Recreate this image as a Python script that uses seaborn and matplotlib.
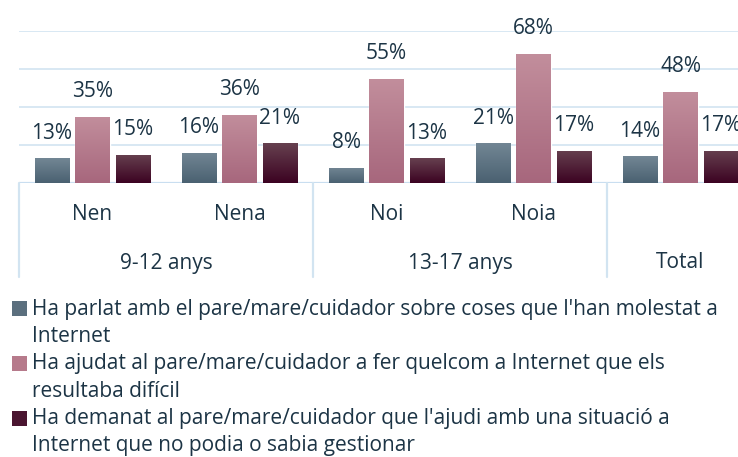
import numpy as np
import pandas as pd
import matplotlib
matplotlib.use("Agg")
import matplotlib.pyplot as plt
from matplotlib.colors import LinearSegmentedColormap
from matplotlib.patches import Rectangle
import seaborn as sns

# Data
categories = ["Nen", "Nena", "Noi", "Noia", "Total"]
age_groups = ["9-12 anys", "13-17 anys", "Total"]
age_group_spans = [(0, 1), (2, 3), (4, 4)]
series_names = [
    "Ha parlat amb el pare/mare/cuidador sobre coses que l'han molestat a\nInternet",
    "Ha ajudat al pare/mare/cuidador a fer quelcom a Internet que els\nresultaba difícil",
    "Ha demanat al pare/mare/cuidador que l'ajudi amb una situació a\nInternet que no podia o sabia gestionar",
]
parlat = [13, 16, 8, 21, 14]
ajudat = [35, 36, 55, 68, 48]
demanat = [15, 21, 13, 17, 17]

rows = []
for name, vals in zip(series_names, [parlat, ajudat, demanat]):
    for cat, v in zip(categories, vals):
        rows.append({"cat": cat, "serie": name, "pct": v})
df = pd.DataFrame(rows)

# Styling
sns.set_theme(style="white")
plt.rcParams["font.family"] = ["Open Sans", "DejaVu Sans"]
TEXT = "#1c3445"
GRID = "#d2e4f1"
FS = 15
grad_colors = [("#728694", "#4a6171"), ("#c28e9c", "#a7677d"), ("#66404f", "#3c0322")]
legend_colors = ["#5b6f7e", "#b67a8b", "#4a1530"]

fig = plt.figure(figsize=(7.38, 4.57), dpi=100)
ax = fig.add_axes([19 / 738, 274 / 457, 735 / 738, 152 / 457])

sns.barplot(data=df, x="cat", y="pct", hue="serie", order=categories,
            hue_order=series_names, palette=legend_colors, width=0.8265,
            gap=0.16, ax=ax, legend=False, saturation=1)

ax.set_xlim(-0.5, 4.5)
ax.set_ylim(0, 80)
ax.set_yticks([20, 40, 60, 80])
ax.set_yticklabels([])
ax.tick_params(left=False, bottom=False)
ax.set_xticks([])
ax.set_xlabel("")
ax.set_ylabel("")
for s in ax.spines.values():
    s.set_visible(False)
ax.yaxis.grid(True, color=GRID, linewidth=1.2)
ax.set_axisbelow(True)
ax.axhline(0, color="#c9def0", linewidth=1.6, zorder=1)

# Vertical gradient fill for each bar, plus value label above it
for container, (ctop, cbot) in zip(ax.containers, grad_colors):
    cmap = LinearSegmentedColormap.from_list("g", [cbot, ctop])
    for patch in container:
        x0 = patch.get_x()
        w = patch.get_width()
        h = patch.get_height()
        grad = np.linspace(0, 1, 64).reshape(-1, 1)
        im = ax.imshow(grad, cmap=cmap, origin="lower", aspect="auto",
                       extent=(x0, x0 + w, 0, h), zorder=3)
        im.set_clip_path(patch)
        ax.annotate(f"{h:.0f}%", (x0 + w / 2, h), xytext=(0, 25),
                    textcoords="offset pixels", ha="center", va="center",
                    fontsize=FS, color=TEXT, annotation_clip=False)
ax.set_xlim(-0.5, 4.5)
ax.set_ylim(0, 80)

# Two-level category axis
xt = ax.get_xaxis_transform()
for xsep in [-0.5, 1.5, 3.5, 4.5]:
    ax.plot([xsep, xsep], [0, -94 / 152], transform=xt, color=GRID,
            linewidth=1.6, clip_on=False)
for i, cat in enumerate(categories[:4]):
    ax.annotate(cat, (i, 0), xycoords=xt, xytext=(0, -32),
                textcoords="offset pixels", ha="center", va="center",
                fontsize=FS, color=TEXT, annotation_clip=False)
for label, (a, b) in zip(age_groups, age_group_spans):
    ax.annotate(label, ((a + b) / 2, 0), xycoords=xt, xytext=(0, -80),
                textcoords="offset pixels", ha="center", va="center",
                fontsize=FS, color=TEXT, annotation_clip=False)

# Legend below the chart
W, H = 738, 457
y = 309
for name, col in zip(series_names, legend_colors):
    fig.patches.append(Rectangle((12 / W, 1 - (y + 7) / H), 15 / W, 15 / H,
                                 transform=fig.transFigure, facecolor=col,
                                 edgecolor="none"))
    for line in name.split("\n"):
        fig.text(32 / W, 1 - y / H, line, ha="left", va="center",
                 fontsize=FS, color=TEXT)
        y += 27.4

fig.savefig("out.png", dpi=100)
